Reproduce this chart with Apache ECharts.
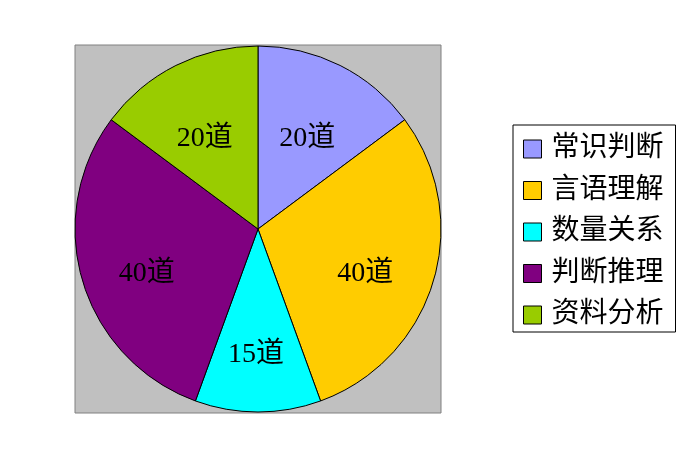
<!DOCTYPE html>
<html>
<head>
<meta charset="utf-8">
<script src="https://cdn.jsdelivr.net/npm/echarts@6/dist/echarts.min.js"></script>
<style>
html,body{margin:0;padding:0;background:#fff;}
#c{width:689px;height:460px;}
</style>
</head>
<body>
<div id="c"></div>
<script>
const categories = ['常识判断', '言语理解', '数量关系', '判断推理', '资料分析'];
const values = [20, 40, 15, 40, 20];
const labelTexts = ['20道', '40道', '15道', '40道', '20道'];
const colors = ['#9999FF', '#FFCC00', '#00FFFF', '#800080', '#99CC00'];

const FONT = "'Liberation Serif', 'Noto Sans CJK SC', serif";

const pieData = categories.map((name, i) => ({
  name: name,
  value: values[i],
  itemStyle: { color: colors[i] }
}));
const labelData = categories.map((name, i) => ({
  name: name,
  value: values[i],
  label: { formatter: labelTexts[i] }
}));

const chart = echarts.init(document.getElementById('c'), null, { renderer: 'canvas' });
chart.setOption({
  animation: false,
  backgroundColor: '#ffffff',
  grid: {
    show: true,
    left: 75, top: 45, width: 366, height: 368,
    backgroundColor: '#C0C0C0',
    borderColor: '#808080',
    borderWidth: 1
  },
  xAxis: { type: 'value', show: false, min: 0, max: 1 },
  yAxis: { type: 'value', show: false, min: 0, max: 1 },
  legend: {
    orient: 'vertical',
    left: 513, top: 125,
    padding: [10, 12, 3, 10],
    borderColor: '#000',
    borderWidth: 1,
    backgroundColor: '#fff',
    itemWidth: 18, itemHeight: 18,
    itemGap: 13.5,
    icon: 'rect',
    itemStyle: { borderColor: '#000', borderWidth: 1 },
    textStyle: { fontFamily: FONT, fontSize: 28, color: '#000', padding: [0, 0, 0, 5], lineHeight: 28 },
    data: categories
  },
  series: [
    {
      type: 'pie',
      center: [258, 229],
      radius: [0, 183],
      startAngle: 90,
      clockwise: true,
      data: pieData,
      label: { show: false },
      labelLine: { show: false },
      itemStyle: { borderColor: '#000', borderWidth: 1 },
      emphasis: { disabled: true }
    },
    {
      type: 'pie',
      center: [258, 229],
      radius: [0, 222],
      startAngle: 90,
      clockwise: true,
      silent: true,
      legendHoverLink: false,
      data: labelData,
      itemStyle: { color: 'rgba(0,0,0,0)', borderWidth: 0 },
      label: {
        show: true,
        position: 'inside',
        color: '#000',
        fontFamily: FONT,
        fontSize: 28,
        offset: [-2, 12],
        textBorderWidth: 0
      },
      labelLine: { show: false },
      emphasis: { disabled: true },
      tooltip: { show: false }
    }
  ]
});
</script>
</body>
</html>
